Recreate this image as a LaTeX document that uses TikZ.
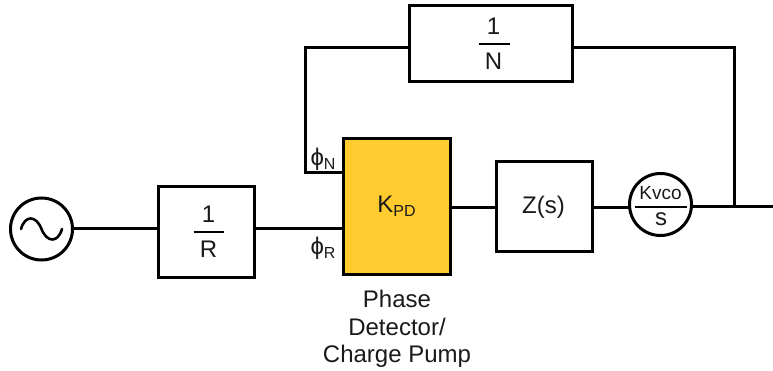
\documentclass[tikz,border=0pt]{standalone}
\usepackage{fontspec}
\setmainfont{Liberation Sans}
\definecolor{pdfill}{HTML}{FFCB2F}
\definecolor{txt}{HTML}{1A1A1A}
\tikzset{
  blockbox/.style={draw=black,line width=3pt,fill=white,minimum width=#1,inner sep=0pt,anchor=center},
  roundblock/.style={draw=black,line width=3pt,fill=white,circle,minimum size=62pt,inner sep=0pt},
  wire/.style={draw=black,line width=3pt,line join=miter},
  lbl/.style={text=txt,font=\fontsize{24pt}{27pt}\selectfont,inner sep=0pt},
  sublbl/.style={text=txt,font=\fontsize{24pt}{27.5pt}\selectfont,inner sep=0pt,align=center},
  fracbar/.style={draw=black,line width=1.6pt},
}
\begin{document}
\begin{tikzpicture}[x=1pt,y=-1pt]
\useasboundingbox (0,0) rectangle (773,371);
% blocks
\node[roundblock] (src) at (41.5,229) {};
\node[blockbox=95.5pt,minimum height=90pt] (R) at (206.25,232) {};
\node[blockbox=107pt,minimum height=135pt,fill=pdfill] (PD) at (396.5,206.5) {};
\node[blockbox=96pt,minimum height=90pt] (Z) at (544,207) {};
\node[roundblock] (VCO) at (660.5,204.5) {};
\node[blockbox=163pt,minimum height=76pt] (N) at (490.5,44) {};
% free points
\coordinate (phiNpt) at (343,173);
\coordinate (phiRpt) at (343,229);
\coordinate (fbL) at (305.5,48);
\coordinate (fbLb) at (305.5,173);
\coordinate (fbR) at (734,48);
\coordinate (tap) at (734,207);
\coordinate (out) at (773,207);
\coordinate (pdout) at (450,208);
\coordinate (zin) at (496,208);
\coordinate (zout) at (592,208);
\coordinate (vin) at (630,208);
\coordinate (vout) at (692,207);
\coordinate (srcout) at (72.5,229);
\coordinate (rin) at (158.5,229);
\coordinate (rout) at (254,229);
\coordinate (nl) at (409,48);
\coordinate (nr) at (572,48);
% connectors
\draw[wire] (srcout) -- (rin);
\draw[wire] (rout) -- (phiRpt);
\draw[wire] (pdout) -- (zin);
\draw[wire] (zout) -- (vin);
\draw[wire] (vout) -- (out);
\draw[wire] (tap) -- (fbR) -- (nr);
\draw[wire] (nl) -- (fbL) -- (fbLb) -- (phiNpt);
% sine
\draw[line width=2.6pt,line cap=round] (21,229) .. controls (25,215) and (36,215) .. (41.5,229) .. controls (47,243) and (58,243) .. (62,229);
% fractions
\node[lbl] (R1) at (208.5,214) {1};
\draw[fracbar] (193.5,232) -- (224,232);
\node[lbl] (R2) at (208.5,249) {R};
\node[lbl] (N1) at (493.5,26) {1};
\draw[fracbar] (479,44) -- (510,44);
\node[lbl] (N2) at (493.5,61) {N};
\node[lbl] (Zt) at (543.5,207) {Z(s)};
\node[lbl] (Kt) at (396.5,206) {K\raisebox{-4pt}{\fontsize{16pt}{16pt}\selectfont PD}};
\node[text=txt,font=\fontsize{19pt}{19pt}\selectfont,inner sep=0pt] (Vt) at (660.5,193) {Kvco};
\draw[fracbar] (635,207) -- (687,207);
\node[lbl] (Vb) at (661,219) {s};
\node[lbl] (phN) at (323,159) {ϕ\raisebox{-4pt}{\fontsize{16pt}{16pt}\selectfont N}};
\node[lbl] (phR) at (323,248) {ϕ\raisebox{-4pt}{\fontsize{16pt}{16pt}\selectfont R}};
\node[sublbl] (cap) at (397,329) {Phase\\Detector/\\Charge Pump};
\end{tikzpicture}
\end{document}
